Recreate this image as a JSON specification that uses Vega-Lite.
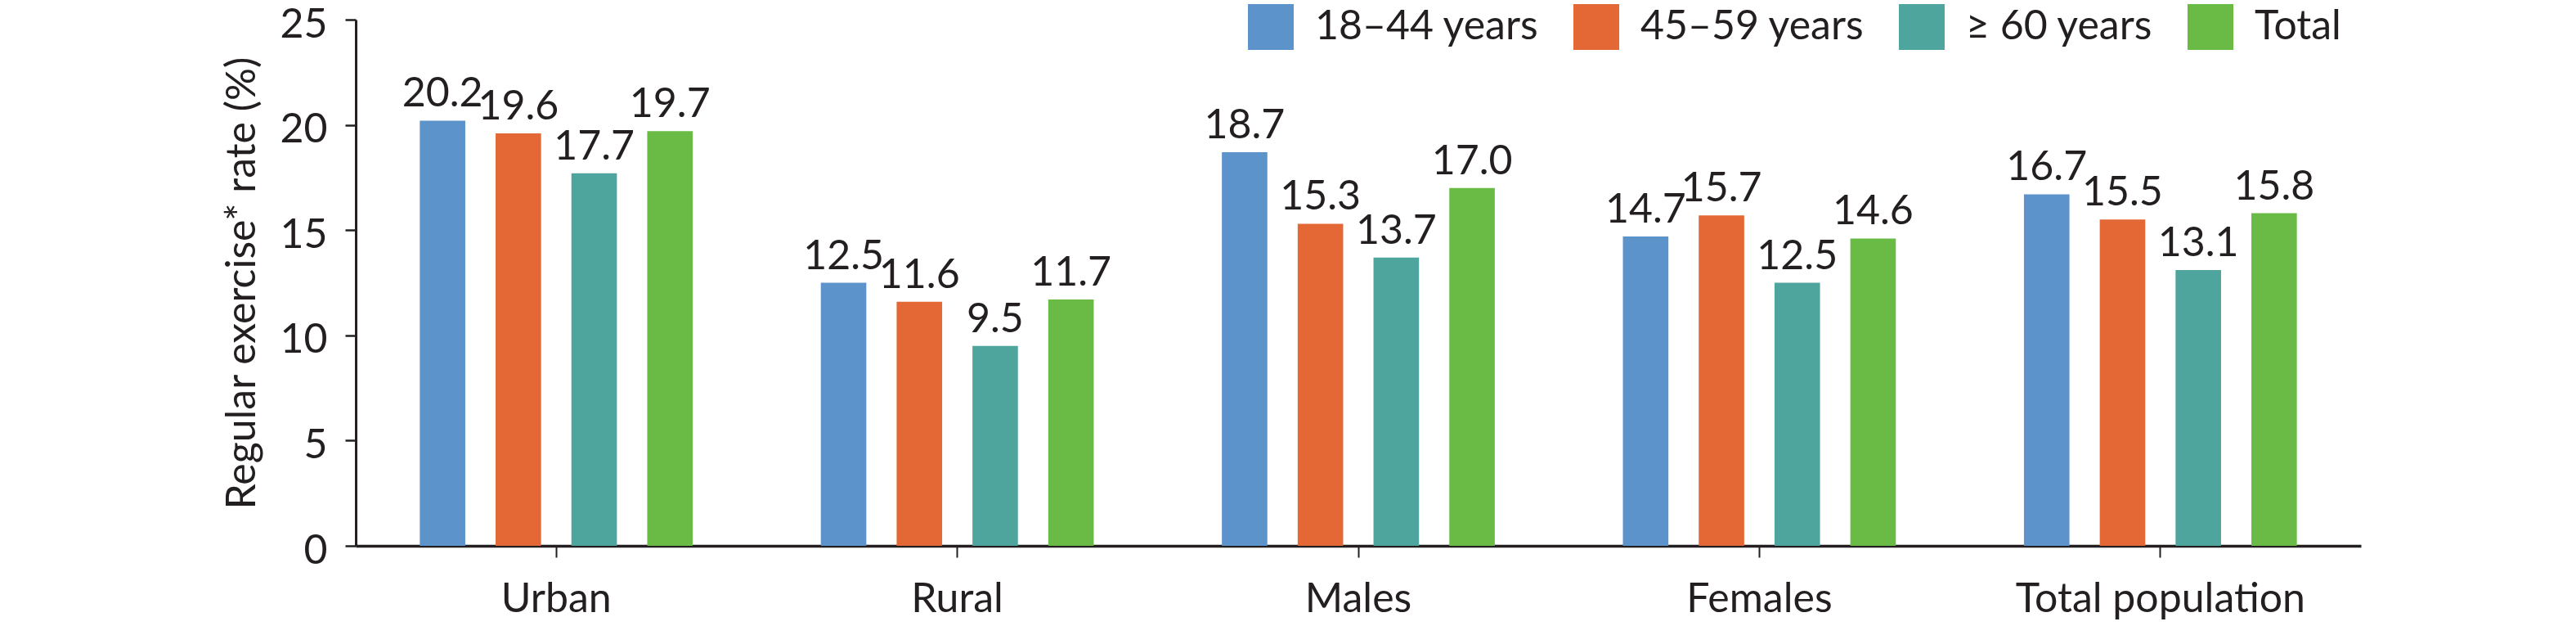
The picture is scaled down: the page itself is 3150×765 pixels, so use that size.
{
  "$schema": "https://vega.github.io/schema/vega-lite/v6.json",
  "autosize": {"type": "none"},
  "padding": {"left": 435, "top": 24, "right": 263, "bottom": 98},
  "width": 2452,
  "height": 643,
  "background": "white",
  "data": {
    "values": [
      {"group": "Urban", "age": "18–44 years", "rate": 20.2},
      {"group": "Urban", "age": "45–59 years", "rate": 19.6},
      {"group": "Urban", "age": "≥ 60 years", "rate": 17.7},
      {"group": "Urban", "age": "Total", "rate": 19.7},
      {"group": "Rural", "age": "18–44 years", "rate": 12.5},
      {"group": "Rural", "age": "45–59 years", "rate": 11.6},
      {"group": "Rural", "age": "≥ 60 years", "rate": 9.5},
      {"group": "Rural", "age": "Total", "rate": 11.7},
      {"group": "Males", "age": "18–44 years", "rate": 18.7},
      {"group": "Males", "age": "45–59 years", "rate": 15.3},
      {"group": "Males", "age": "≥ 60 years", "rate": 13.7},
      {"group": "Males", "age": "Total", "rate": 17.0},
      {"group": "Females", "age": "18–44 years", "rate": 14.7},
      {"group": "Females", "age": "45–59 years", "rate": 15.7},
      {"group": "Females", "age": "≥ 60 years", "rate": 12.5},
      {"group": "Females", "age": "Total", "rate": 14.6},
      {"group": "Total population", "age": "18–44 years", "rate": 16.7},
      {"group": "Total population", "age": "45–59 years", "rate": 15.5},
      {"group": "Total population", "age": "≥ 60 years", "rate": 13.1},
      {"group": "Total population", "age": "Total", "rate": 15.8}
    ]
  },
  "encoding": {
    "x": {
      "field": "group",
      "type": "nominal",
      "sort": null,
      "scale": {"paddingInner": 0, "paddingOuter": 0},
      "axis": {
        "title": null,
        "labelAngle": 0,
        "labelFontSize": 50,
        "labelLimit": 0,
        "labelPadding": 26,
        "tickSize": 14,
        "tickWidth": 2,
        "domainWidth": 3.5
      }
    },
    "xOffset": {
      "field": "age",
      "type": "nominal",
      "sort": null,
      "scale": {"paddingInner": 0.4, "paddingOuter": 0.845}
    },
    "y": {
      "field": "rate",
      "type": "quantitative",
      "scale": {"domain": [0, 25]},
      "axis": {
        "title": "Regular exercise* rate (%)",
        "values": [0, 5, 10, 15, 20, 25],
        "grid": false,
        "labelFontSize": 50,
        "labelOffset": 6,
        "labelPadding": 22,
        "tickSize": 13,
        "tickWidth": 2.5,
        "domainWidth": 3,
        "titleFontSize": 50,
        "titleFontWeight": "normal",
        "titlePadding": 20
      }
    }
  },
  "layer": [
    {
      "mark": {"type": "bar"},
      "encoding": {
        "color": {
          "field": "age",
          "type": "nominal",
          "sort": null,
          "scale": {
            "domain": ["18–44 years", "45–59 years", "≥ 60 years", "Total"],
            "range": ["#5d93cb", "#e36835", "#4ea59d", "#6abb46"]
          },
          "legend": {
            "title": null,
            "orient": "none",
            "legendX": 1091,
            "legendY": -19,
            "direction": "horizontal",
            "columns": 4,
            "padding": 0,
            "symbolType": "square",
            "symbolSize": 3136,
            "symbolStrokeWidth": 0,
            "symbolOpacity": 1,
            "labelFontSize": 50,
            "labelOffset": 26,
            "labelLimit": 0,
            "columnPadding": 42
          }
        }
      }
    },
    {
      "mark": {
        "type": "text",
        "baseline": "alphabetic",
        "dy": -17,
        "fontSize": 50,
        "color": "#231f20"
      },
      "encoding": {
        "text": {"field": "rate", "type": "quantitative", "format": ".1f"}
      }
    }
  ],
  "config": {
    "font": "Lato",
    "view": {"stroke": null},
    "axis": {
      "domainColor": "#231f20",
      "tickColor": "#231f20",
      "labelColor": "#231f20",
      "titleColor": "#231f20",
      "labelFont": "Lato",
      "titleFont": "Lato"
    },
    "legend": {"labelColor": "#231f20", "labelFont": "Lato"}
  }
}
